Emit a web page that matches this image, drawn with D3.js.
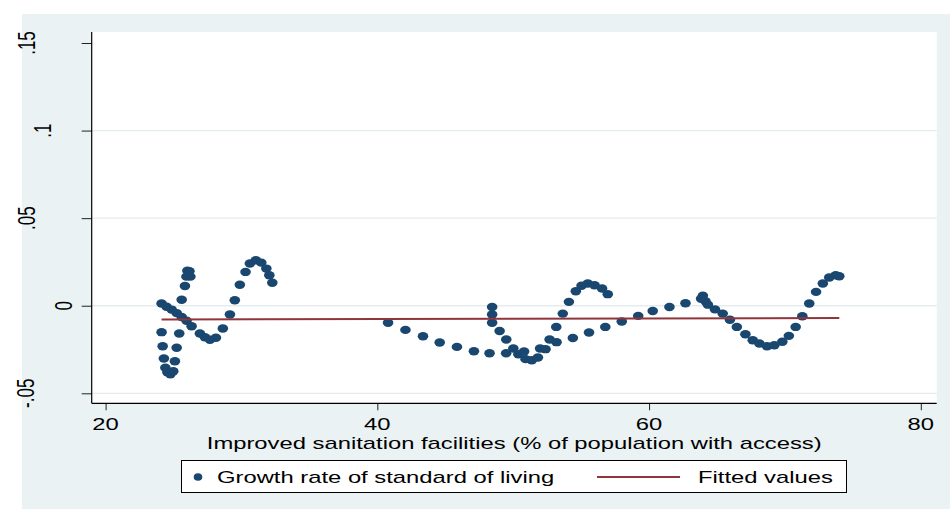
<!DOCTYPE html>
<html>
<head>
<meta charset="utf-8">
<script src="https://cdn.jsdelivr.net/npm/d3@7"></script>
<style>
  html, body { margin: 0; padding: 0; background: #ffffff; }
  svg { display: block; }
  text { font-family: "Liberation Sans", Arial, Helvetica, sans-serif; fill: #000; }
</style>
</head>
<body>
<svg id="chart" width="950" height="509"></svg>
<script>
// Improved sanitation facilities (% of population with access)
const sanitation = [
  24.12, 24.12, 24.20, 24.29, 24.40, 24.55, 24.77, 24.98, 25.10, 25.23, 25.42,
  25.60, 25.84, 25.95, 26.02, 26.17, 26.24,
  24.49, 24.86, 25.23, 25.60, 25.96, 26.33, 26.94, 27.31, 27.68, 28.12, 28.63,
  29.15, 29.51, 29.88, 30.30, 30.62, 31.06, 31.46, 31.83, 32.05, 32.27,
  40.79, 42.07, 43.36, 44.59, 45.86, 47.11, 48.26, 48.45, 48.45, 48.45,
  49.00, 49.49, 49.48, 50.01, 50.38, 50.80, 50.91, 51.37, 51.82, 51.98,
  52.38, 52.68, 53.19, 53.17, 53.65, 54.10, 54.61, 55.03, 55.49, 55.99,
  56.54, 56.96, 54.39, 55.58, 56.78, 57.99, 59.20, 60.27, 61.50, 62.68,
  63.83, 63.96, 64.15, 64.33, 64.85, 65.42, 65.95, 66.46, 67.09, 67.63,
  68.12, 68.68, 69.22, 69.81, 70.29, 70.79, 71.28, 71.79, 72.29, 72.79,
  73.26, 73.74, 74.00
];

// Growth rate of standard of living
const growth = [
  0.0013, -0.0151, -0.0231, -0.0301, -0.0354, -0.0380, -0.0391, -0.0374, -0.0317, -0.0240, -0.0159,
  0.0034, 0.0113, 0.0166, 0.0200, 0.0197, 0.0166,
  -0.0006, -0.0022, -0.0042, -0.0064, -0.0086, -0.0117, -0.0159, -0.0180, -0.0194, -0.0183, -0.0130,
  -0.0050, 0.0031, 0.0120, 0.0193, 0.0241, 0.0260, 0.0246, 0.0212, 0.0174, 0.0131,
  -0.0097, -0.0138, -0.0174, -0.0210, -0.0235, -0.0260, -0.0271, -0.0007, -0.0050, -0.0097,
  -0.0144, -0.0193, -0.0271, -0.0244, -0.0277, -0.0261, -0.0305, -0.0311, -0.0296, -0.0244,
  -0.0248, -0.0193, -0.0208, -0.0121, -0.0045, 0.0022, 0.0083, 0.0114, 0.0127, 0.0117,
  0.0098, 0.0066, -0.0184, -0.0153, -0.0121, -0.0090, -0.0058, -0.0030, -0.0007, 0.0014,
  0.0040, 0.0057, 0.0026, 0.0006, -0.0021, -0.0045, -0.0080, -0.0121, -0.0163, -0.0197,
  -0.0216, -0.0231, -0.0226, -0.0206, -0.0172, -0.0121, -0.0060, 0.0013, 0.0079, 0.0127,
  0.0161, 0.0174, 0.0168
];

// Linear fit of growth on sanitation
const fittedIntercept = -0.00833;
const fittedSlope = 0.000018;

const xTicks = [20, 40, 60, 80];
const xTickLabels = ["20", "40", "60", "80"];
const yTicks = [-0.05, 0, 0.05, 0.1, 0.15];
const yTickLabels = ["-.05", "0", ".05", ".1", ".15"];
const yGridTicks = [-0.05, 0, 0.05, 0.1];

const xTitle = "Improved sanitation facilities (% of population with access)";
const legendLabels = ["Growth rate of standard of living", "Fitted values"];

// ---- layout ----
const W = 950, H = 509;
const plot = { left: 91.7, right: 936.7, top: 32, bottom: 403.3 };
const textStretch = 1.4;          // horizontal stretch of all lettering
const fontSize = 17;
const yLabelCenterX = [25.5, 63.5, 26.5, 42.5, 26.5];   // per y tick label
const navy = "#1a476f";
const maroon = "#90353b";
const bgColor = "#eaf2f3";
const gridColor = "#e4ecee";

const svg = d3.select("#chart");

const x = d3.scaleLinear().domain([20, 80]).range([105.6, 920.8]);
const y = d3.scaleLinear().domain([-0.05, 0.15]).range([393.3, 43]);

// graph region and plot region
svg.append("rect").attr("x", 22).attr("y", 14).attr("width", W - 22).attr("height", H - 14)
  .attr("fill", bgColor);
svg.append("rect").attr("x", plot.left).attr("y", plot.top)
  .attr("width", plot.right - plot.left).attr("height", plot.bottom - plot.top)
  .attr("fill", "#ffffff");

// horizontal grid lines
svg.append("g").selectAll("line").data(yGridTicks).join("line")
  .attr("x1", plot.left).attr("x2", plot.right)
  .attr("y1", d => y(d)).attr("y2", d => y(d))
  .attr("stroke", gridColor).attr("stroke-width", 1.3);

function stretchedText(sel, tx, ty, extra) {
  return sel.attr("transform", `translate(${tx},${ty}) scale(${textStretch},1)` + (extra || ""));
}

// y axis ticks
const yAxis = d3.axisLeft(y).tickValues(yTicks).tickSize(10).tickSizeOuter(0).tickFormat(() => "");
const gy = svg.append("g").attr("transform", `translate(${plot.left},0)`).call(yAxis);
gy.select(".domain").remove();
gy.selectAll(".tick line").attr("stroke", "#222").attr("stroke-width", 1);

yTicks.forEach((t, i) => {
  stretchedText(svg.append("text"), yLabelCenterX[i], y(t), " rotate(-90)")
    .attr("text-anchor", "middle")
    .attr("dy", "0.35em")
    .attr("font-size", fontSize)
    .text(yTickLabels[i]);
});

// x axis ticks
const xAxis = d3.axisBottom(x).tickValues(xTicks).tickSize(7).tickSizeOuter(0).tickFormat(() => "");
const gx = svg.append("g").attr("transform", `translate(0,${plot.bottom})`).call(xAxis);
gx.select(".domain").remove();
gx.selectAll(".tick line").attr("stroke", "#222").attr("stroke-width", 1);

xTicks.forEach((t, i) => {
  stretchedText(svg.append("text"), x(t), 429.5)
    .attr("text-anchor", "middle")
    .attr("font-size", fontSize)
    .text(xTickLabels[i]);
});

// axis lines
svg.append("line").attr("x1", plot.left).attr("x2", plot.left)
  .attr("y1", plot.top).attr("y2", plot.bottom).attr("stroke", "#000").attr("stroke-width", 1.2);
svg.append("line").attr("x1", plot.left).attr("x2", plot.right)
  .attr("y1", plot.bottom).attr("y2", plot.bottom).attr("stroke", "#000").attr("stroke-width", 1.2);

// x axis title
stretchedText(svg.append("text"), (plot.left + plot.right) / 2, 448.5)
  .attr("text-anchor", "middle")
  .attr("font-size", fontSize)
  .text(xTitle);

// scatter markers
const pts = sanitation.map((s, i) => ({ s, g: growth[i] }));
svg.append("g").selectAll("ellipse").data(pts).join("ellipse")
  .attr("cx", d => x(d.s)).attr("cy", d => y(d.g))
  .attr("rx", 5.3).attr("ry", 4.2)
  .attr("fill", navy);

// fitted line across the observed range
const xExt = d3.extent(sanitation);
const fitPts = xExt.map(v => [v, fittedIntercept + fittedSlope * v]);
svg.append("path")
  .attr("d", d3.line().x(d => x(d[0])).y(d => y(d[1]))(fitPts))
  .attr("fill", "none").attr("stroke", maroon).attr("stroke-width", 2);

// legend
const lg = svg.append("g");
lg.append("rect").attr("x", 181.5).attr("y", 460.5).attr("width", 665).attr("height", 32)
  .attr("fill", "#fff").attr("stroke", "#000").attr("stroke-width", 1);
lg.append("ellipse").attr("cx", 198).attr("cy", 477).attr("rx", 4.3).attr("ry", 3.8).attr("fill", navy);
stretchedText(lg.append("text"), 217, 483).attr("font-size", fontSize).text(legendLabels[0]);
lg.append("line").attr("x1", 597).attr("x2", 680).attr("y1", 477).attr("y2", 477)
  .attr("stroke", maroon).attr("stroke-width", 2);
stretchedText(lg.append("text"), 698, 483).attr("font-size", fontSize).text(legendLabels[1]);
</script>
</body>
</html>
